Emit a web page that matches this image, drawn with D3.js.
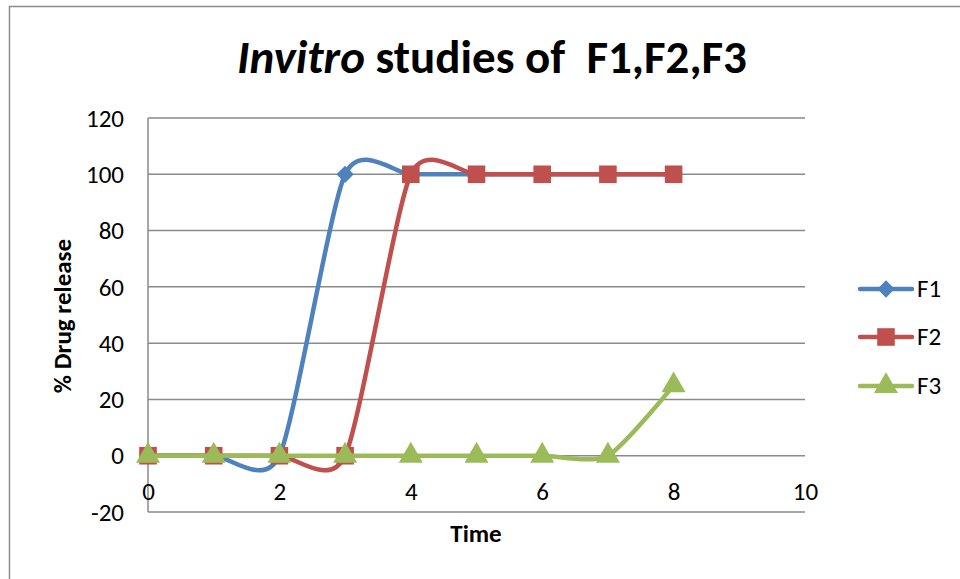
<!DOCTYPE html>
<html>
<head>
<meta charset="utf-8">
<script src="https://cdn.jsdelivr.net/npm/d3@7"></script>
<style>
  body { margin: 0; background: #fff; }
  svg text { font-family: Carlito, Calibri, "Open Sans", sans-serif; fill: #000; }
</style>
</head>
<body>
<svg id="chart" width="960" height="579"></svg>
<script>
// data
var times = [0, 1, 2, 3, 4, 5, 6, 7, 8];
var f1 = [0, 0, 0, 100, 100, 100, 100, 100, 100];
var f2 = [0, 0, 0, 0, 100, 100, 100, 100, 100];
var f3 = [0, 0, 0, 0, 0, 0, 0, 0, 25];
var seriesNames = ["F1", "F2", "F3"];
var xTicks = [0, 2, 4, 6, 8, 10];
var yTicks = [-20, 0, 20, 40, 60, 80, 100, 120];

var colors = {F1: "#4F81BD", F2: "#C0504D", F3: "#9BBB59"};
// excel diamond is a square turned 45 degrees
var symbols = {F1: d3.symbolSquare, F2: d3.symbolSquare, F3: d3.symbolTriangle};
var symRot = {F1: 45, F2: 0, F3: 0};
var symSize = {F1: 150, F2: 310, F3: 250};

var svg = d3.select("#chart");

// outer chart border (only left and top edges show in the frame)
svg.append("rect")
  .attr("x", 9.5).attr("y", 6.5)
  .attr("width", 1000).attr("height", 1000)
  .attr("fill", "none").attr("stroke", "#8c8c8c").attr("stroke-width", 1.5);

var x = d3.scaleLinear().domain([0, 10]).range([148, 805]);
var y = d3.scaleLinear().domain([-20, 120]).range([512, 118]);

// gridlines
svg.append("g")
  .selectAll("line")
  .data(yTicks)
  .enter()
  .append("line")
  .attr("x1", x(0)).attr("x2", x(10))
  .attr("y1", function(d){ return y(d); }).attr("y2", function(d){ return y(d); })
  .attr("stroke", "#8a8a8a").attr("stroke-width", 1.5);

// vertical axis line
svg.append("line")
  .attr("x1", x(0)).attr("x2", x(0))
  .attr("y1", y(120)).attr("y2", y(-20))
  .attr("stroke", "#8a8a8a").attr("stroke-width", 1.5);

// y axis labels
var yAxis = d3.axisLeft(y).tickValues(yTicks).tickSize(0).tickPadding(24);
var gy = svg.append("g").attr("transform", "translate(" + x(0) + ",0)").call(yAxis);
gy.select(".domain").remove();
gy.selectAll("text").style("font-size", "25px").attr("dy", "0.33em")
  .text(function(d){ return d < 0 ? "-" + Math.abs(d) : d; });

// x axis labels sit under the zero line
var xAxis = d3.axisBottom(x).tickValues(xTicks).tickSize(0);
var gx = svg.append("g").attr("transform", "translate(0," + y(0) + ")").call(xAxis);
gx.select(".domain").remove();
gx.selectAll("text").style("font-size", "25px").attr("y", 44).attr("dy", 0);

// title
var title = svg.append("text")
  .attr("x", 492).attr("y", 73)
  .attr("text-anchor", "middle")
  .style("font-size", "47px").style("font-weight", "bold");
title.append("tspan").style("font-style", "italic").text("Invitro");
title.append("tspan").text(" studies of\u00a0\u00a0F1,F2,F3");

// axis titles
svg.append("text")
  .attr("transform", "translate(71,316) rotate(-90)")
  .attr("text-anchor", "middle")
  .style("font-size", "25px").style("font-weight", "bold")
  .text("% Drug release");

svg.append("text")
  .attr("x", 476).attr("y", 542)
  .attr("text-anchor", "middle")
  .style("font-size", "25px").style("font-weight", "bold")
  .text("Time");

// series
var allSeries = [f1, f2, f3].map(function(vals, i){
  return {name: seriesNames[i], points: times.map(function(t, j){ return {t: t, v: vals[j]}; })};
});

var line = d3.line()
  .x(function(d){ return x(d.t); })
  .y(function(d){ return y(d.v); })
  .curve(d3.curveCardinal.tension(0.3));

allSeries.forEach(function(s){
  var g = svg.append("g").attr("class", "series");
  g.append("path")
    .datum(s.points)
    .attr("d", line)
    .attr("fill", "none")
    .attr("stroke", colors[s.name])
    .attr("stroke-width", 4.5)
    .attr("stroke-linejoin", "round")
    .attr("stroke-linecap", "round");
  g.selectAll("path.marker")
    .data(s.points)
    .enter()
    .append("path")
    .classed("marker", true)
    .attr("d", d3.symbol().type(symbols[s.name]).size(symSize[s.name]))
    .attr("transform", function(d){
      return "translate(" + x(d.t) + "," + y(d.v) + ") rotate(" + symRot[s.name] + ")";
    })
    .attr("fill", colors[s.name]);
});

// legend
var legendY = [289, 337, 386];
var legend = svg.append("g")
  .selectAll("g")
  .data(seriesNames)
  .enter()
  .append("g")
  .attr("transform", function(d, i){ return "translate(0," + legendY[i] + ")"; });
legend.append("line")
  .attr("x1", 860).attr("x2", 912)
  .attr("stroke", function(d){ return colors[d]; })
  .attr("stroke-width", 4.5).attr("stroke-linecap", "round");
legend.append("path")
  .attr("d", function(d){ return d3.symbol().type(symbols[d]).size(symSize[d])(); })
  .attr("transform", function(d){ return "translate(886,0) rotate(" + symRot[d] + ")"; })
  .attr("fill", function(d){ return colors[d]; });
legend.append("text")
  .attr("x", 917).attr("dy", "0.33em")
  .style("font-size", "25px")
  .text(function(d){ return d; });
</script>
</body>
</html>
